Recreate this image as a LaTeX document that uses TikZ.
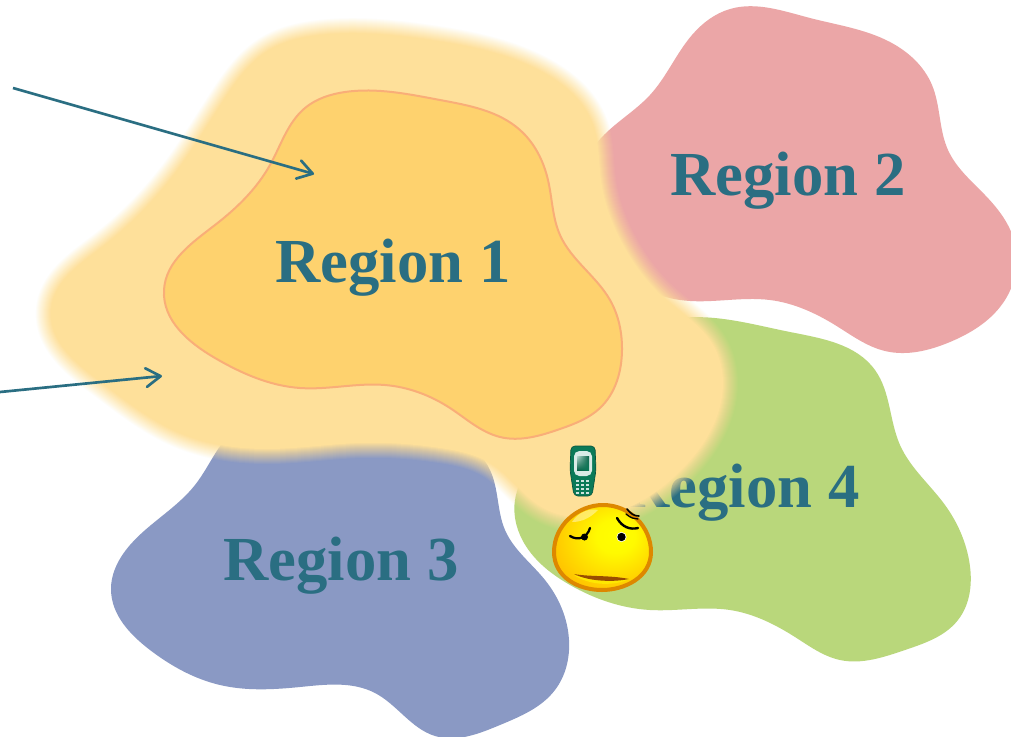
\documentclass[tikz,border=0pt]{standalone}
\usepackage{fontspec}
\setmainfont{Liberation Serif}
\usetikzlibrary{arrows.meta,shadings,hobby}
\definecolor{txtc}{HTML}{2A6E82}
\definecolor{glowc}{HTML}{FEE09A}
\definecolor{innerc}{HTML}{FED26E}
\definecolor{edgec}{HTML}{F9AE78}
\definecolor{rtwo}{HTML}{EBA6A7}
\definecolor{rthree}{HTML}{8A99C4}
\definecolor{rfour}{HTML}{B9D77B}
\definecolor{phonec}{HTML}{0B7A58}
\definecolor{faceo}{HTML}{DD8800}
\pgfdeclareradialshading{faceshade}{\pgfpoint{8bp}{8bp}}{rgb(0bp)=(1,1,0);rgb(10bp)=(1,0.98,0);rgb(25bp)=(1,0.83,0);rgb(40bp)=(1,0.68,0);rgb(70bp)=(0.93,0.52,0)}
\tikzset{
  regionlabel/.style={text=txtc,font=\fontsize{47}{47}\selectfont\bfseries,inner sep=0pt,anchor=center},
  pointer/.style={draw=txtc,line width=2pt,-{Straight Barb[length=11pt,width=14pt,line width=2pt,round]}},
  blob/.style={use Hobby shortcut,closed=true}
}
\def\outerblob{(320,36) .. (430,41) .. (540,72) .. (592,125) .. (600,180) .. (625,250) .. (665,300) .. (712,345) .. (718,410) .. (680,470) .. (600,515) .. (540,505) .. (495,465) .. (440,447) .. (360,442) .. (270,448) .. (180,432) .. (100,380) .. (52,310) .. (100,250) .. (175,175) .. (225,100) .. (268,52)}
\begin{document}
\begin{tikzpicture}[x=0.75pt,y=-0.75pt]
\useasboundingbox (0,0) rectangle (1011,736);
\fill[white] (0,0) rectangle (1011,736);
% lower regions
\begin{scope}
\clip (0,0) rectangle (1011,736);
\fill[rtwo,blob] (730,9) .. (810,18) .. (890,42) .. (932,85) .. (948,150) .. (985,195) .. (1014,240) .. (1005,300) .. (950,342) .. (885,351) .. (835,325) .. (770,300) .. (680,300) .. (600,250) .. (592,150) .. (650,95) .. (692,35);
\fill[rthree,blob] (240,425) .. (195,485) .. (130,545) .. (111,590) .. (150,650) .. (220,685) .. (300,687) .. (375,693) .. (435,736) .. (500,725) .. (555,690) .. (569,640) .. (545,580) .. (505,530) .. (490,470) .. (350,420);
\fill[rfour,blob] (680,318) .. (790,332) .. (875,370) .. (900,445) .. (945,505) .. (969,560) .. (958,620) .. (905,650) .. (840,660) .. (795,637) .. (730,610) .. (650,610) .. (570,585) .. (520,535) .. (515,500) .. (560,430) .. (640,330);
\end{scope}
\node[regionlabel] (r2) at (788,181) {Region 2};
\node[regionlabel] (r3) at (341,566) {Region 3};
\node[regionlabel] (r4) at (742,493) {Region 4};
% soft glow
\foreach \k in {1,...,16}{
  \pgfmathsetmacro{\w}{(17-\k)*1.5}
  \pgfmathsetmacro{\a}{1/(17-\k)}
  \draw[glowc,opacity=\a,line width=\w pt,line join=round,blob] \outerblob;
}
\fill[glowc,blob] \outerblob;
% region 1
\filldraw[fill=innerc,draw=edgec,line width=1.5pt,blob] (345,92) .. (440,100) .. (520,130) .. (548,180) .. (560,235) .. (610,300) .. (622,350) .. (600,408) .. (560,429) .. (500,437) .. (450,408) .. (385,385) .. (300,388) .. (215,358) .. (164,290) .. (215,225) .. (270,165) .. (305,108);
\node[regionlabel] (r1) at (393,268) {Region 1};
% arrows
\coordinate (a1s) at (13,88);
\coordinate (a1e) at (314,174);
\coordinate (a2s) at (0,392);
\coordinate (a2e) at (162,376);
\draw[pointer] (a1s) -- (a1e);
\draw[pointer] (a2s) -- (a2e);
% phone
\filldraw[fill=phonec,draw=phonec!70!black,line width=.5pt,rounded corners=3pt] (571,446) -- (595,446) -- (596,470) -- (592,496) -- (574,496) -- (570,470) -- cycle;
\fill[white!85!phonec,rounded corners=4pt] (574,451) rectangle (592,476);
\shade[lower left=phonec!80!black,upper right=phonec!80!black,upper left=white!70!phonec,lower right=phonec] (577,456) rectangle (589,470);
\foreach \x in {576,581,586}{\foreach \y in {480,484,488,492}{\fill[white!80!phonec] (\x,\y) rectangle ++(3,2);}}
% face
\path[shade,shading=faceshade,draw=faceo,line width=3pt]
  (554,552) .. controls (554,525) and (578,505) .. (603,505) .. controls (630,505) and (651,527) .. (651,552) .. controls (651,577) and (625,590) .. (602,590) .. controls (578,590) and (554,577) .. (554,552) -- cycle;
\fill[white,opacity=.4] (572,522) .. controls (578,512) and (590,508) .. (598,510) .. controls (592,516) and (584,522) .. (572,522) -- cycle;
\draw[black,line width=1.7pt,line cap=round] (570,536) .. controls (578,541) and (587,538) .. (590,528);
\fill[black] (584.5,537) circle (3.5);
\fill[white] (621.5,537) circle (5);
\fill[black] (621.5,537) circle (4.2);
\draw[black,line width=1.8pt,line cap=round] (617,518) .. controls (622,527) and (630,530) .. (638,528);
\draw[black,line width=1.2pt,line cap=round] (627,509) .. controls (631,514) and (634,516) .. (639,516);
\draw[black,line width=1pt,line cap=round] (626,514) .. controls (631,518) and (634,519) .. (638,519);
\fill[yellow!90!orange] (574,575) .. controls (595,582) and (610,581) .. (629,579) .. controls (615,586) and (590,586) .. (574,575) -- cycle;
\fill[orange!60!black] (574,574) .. controls (590,577) and (610,575) .. (629,579) .. controls (615,582) and (590,582) .. (574,574) -- cycle;
\end{tikzpicture}
\end{document}
